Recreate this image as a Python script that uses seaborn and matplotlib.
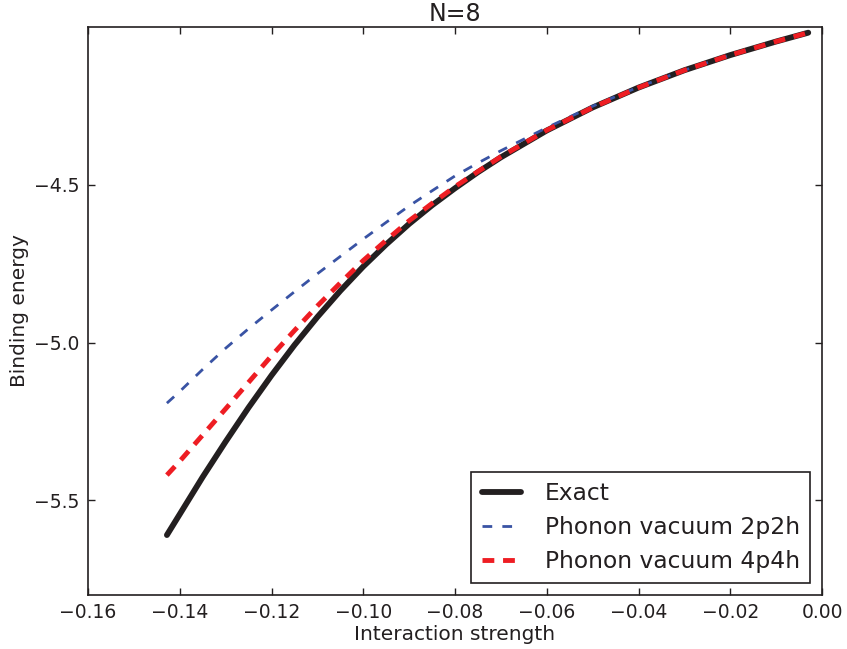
import pandas as pd
import matplotlib
matplotlib.use("Agg")
import matplotlib.pyplot as plt
import seaborn as sns

# Interaction strength (x) and binding energies
strength = [-0.1428, -0.14, -0.135, -0.13, -0.125, -0.12, -0.115, -0.11,
            -0.105, -0.10, -0.095, -0.09, -0.085, -0.08, -0.075, -0.07,
            -0.06, -0.05, -0.04, -0.03, -0.02, -0.01, -0.003]
exact = [-5.610, -5.544, -5.426, -5.314, -5.206, -5.104, -5.008, -4.919,
         -4.836, -4.759, -4.689, -4.624, -4.565, -4.511, -4.460, -4.413,
         -4.328, -4.255, -4.192, -4.137, -4.089, -4.046, -4.018]
vac_2p2h = [-5.192, -5.155, -5.085, -5.018, -4.956, -4.897, -4.839, -4.782,
            -4.727, -4.672, -4.619, -4.567, -4.519, -4.472, -4.431, -4.392,
            -4.319, -4.251, -4.190, -4.137, -4.089, -4.046, -4.018]
vac_4p4h = [-5.420, -5.376, -5.293, -5.210, -5.126, -5.042, -4.962, -4.884,
            -4.811, -4.740, -4.676, -4.614, -4.559, -4.506, -4.458, -4.411,
            -4.327, -4.255, -4.192, -4.137, -4.089, -4.046, -4.018]

xticks = [-0.16, -0.14, -0.12, -0.10, -0.08, -0.06, -0.04, -0.02, 0.00]
yticks = [-5.5, -5.0, -4.5]

df = pd.DataFrame({'strength': strength, 'Exact': exact,
                   'Phonon vacuum 2p2h': vac_2p2h,
                   'Phonon vacuum 4p4h': vac_4p4h})

sns.set_style('ticks')
plt.rcParams['font.family'] = ['DejaVu Sans']
plt.rcParams['lines.scale_dashes'] = False
plt.rcParams['text.color'] = '#231f20'
plt.rcParams['axes.labelcolor'] = '#231f20'
plt.rcParams['xtick.color'] = '#231f20'
plt.rcParams['ytick.color'] = '#231f20'

fig = plt.figure(figsize=(8.47, 6.49), dpi=100)
ax = fig.add_axes([0.1039, 0.0832, 0.8666, 0.8752])

sns.lineplot(data=df, x='strength', y='Exact', ax=ax, color='#231f20',
             linewidth=4.2, label='Exact', sort=False)
sns.lineplot(data=df, x='strength', y='Phonon vacuum 2p2h', ax=ax,
             color='#3953a4', linewidth=2, linestyle=(0, (7, 7.3)),
             label='Phonon vacuum 2p2h', sort=False)
sns.lineplot(data=df, x='strength', y='Phonon vacuum 4p4h', ax=ax,
             color='#ee1d23', linewidth=3.5, linestyle=(0, (8.5, 6.3)),
             label='Phonon vacuum 4p4h', sort=False)

ax.set_xlim(-0.16, 0.0)
ax.set_ylim(-5.8, -4.0)
ax.set_xticks(xticks)
ax.set_yticks(yticks)
ax.tick_params(direction='in', length=5, width=1, top=True, right=True,
               labelsize=13.5, pad=6)
for s in ax.spines.values():
    s.set_linewidth(1.2)
    s.set_color('#231f20')

ax.set_title('N=8', fontsize=17, pad=4)
ax.set_xlabel('Interaction strength', fontsize=14.5, labelpad=2)
ax.set_ylabel('Binding energy', fontsize=14.5, labelpad=4)

leg = ax.legend(loc='lower right', fontsize=16.8, handlelength=1.7,
                labelspacing=0.46, fancybox=False, frameon=True,
                borderpad=0.45, handletextpad=1.0)
leg.get_frame().set_edgecolor('#231f20')
leg.get_frame().set_linewidth(1.2)
leg.get_frame().set_alpha(1)

fig.savefig('out.png', dpi=100)
